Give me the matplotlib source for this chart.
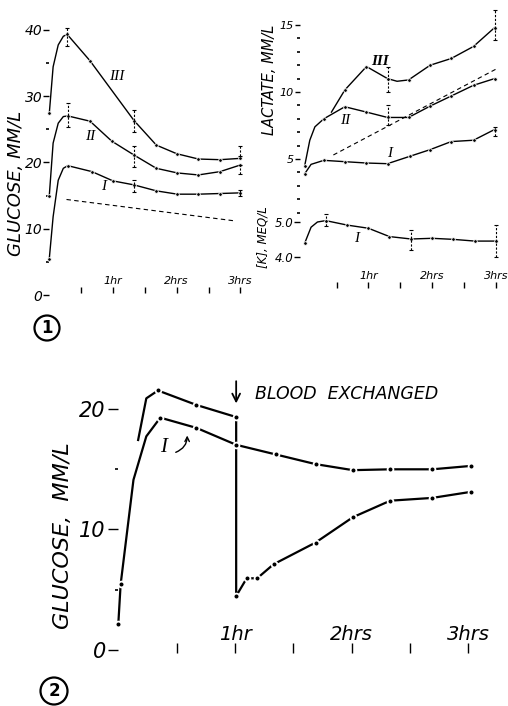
import matplotlib
matplotlib.use("Agg")
import matplotlib.pyplot as plt
from matplotlib.patches import Circle

W, H = 508, 706

# ---------------- figure 1, glucose (left panel) ----------------
# the extra values right after t=0 are bends of the hand-drawn curve, no dot there
glu3_t = [0, 0.06, 0.14, 0.22, 0.28, 0.64, 1.33, 1.68, 2.0, 2.34, 2.68, 3.0]
glu3 = [27.4, 34.4, 37.7, 39.0, 39.3, 35.3, 26.3, 22.6, 21.3, 20.5, 20.4, 20.6]
glu2_t = [0, 0.06, 0.14, 0.22, 0.29, 0.64, 0.98, 1.33, 1.68, 2.01, 2.34, 2.68, 3.0]
glu2 = [15.0, 22.9, 25.9, 26.9, 27.0, 26.2, 23.2, 21.1, 19.1, 18.4, 18.1, 18.6, 19.6]
glu1_t = [0, 0.06, 0.14, 0.22, 0.29, 0.67, 1.0, 1.33, 1.68, 2.01, 2.34, 2.68, 3.0]
glu1 = [5.5, 11.8, 17.3, 19.1, 19.5, 18.6, 17.2, 16.6, 15.7, 15.2, 15.2, 15.3, 15.4]
glu_dots = [0, 4, 5, 6, 7, 8, 9, 10, 11, 12]
glu_dash_t = [0.27, 2.89]
glu_dash = [14.4, 11.2]
glu_err_t = [0.28, 0.29, 1.33, 1.33, 1.33, 3.0, 3.0, 3.0]
glu_err_lo = [37.5, 25.4, 24.6, 19.3, 15.6, 20.9, 18.3, 14.9]
glu_err_hi = [40.2, 28.9, 27.9, 22.4, 17.3, 22.5, 19.6, 15.9]

# ---------------- figure 1, lactate and potassium (right panel) ----------------
lac3_t = [0.42, 0.63, 0.97, 1.3, 1.45, 1.63, 1.97, 2.3, 2.65, 2.98]
lac3 = [8.5, 10.15, 11.9, 11.0, 10.8, 10.9, 12.0, 12.5, 13.4, 14.8]
lac3_dots = [1, 2, 3, 5, 6, 7, 8, 9]
lac2_t = [0, 0.08, 0.16, 0.3, 0.63, 0.97, 1.3, 1.63, 1.97, 2.3, 2.65, 2.98]
lac2 = [4.5, 6.4, 7.4, 8.0, 8.9, 8.5, 8.1, 8.1, 8.95, 9.7, 10.5, 11.0]
lac2_dots = [0, 3, 4, 5, 6, 7, 8, 9, 10, 11]
lac1_t = [0, 0.1, 0.3, 0.63, 0.97, 1.3, 1.65, 1.97, 2.3, 2.65, 2.98]
lac1 = [3.9, 4.6, 4.9, 4.8, 4.7, 4.65, 5.2, 5.7, 6.3, 6.4, 7.2]
lac1_dots = [0, 2, 3, 4, 5, 6, 7, 8, 9, 10]
lac_dash_t = [0.45, 3.04]
lac_dash = [5.3, 11.8]
lac_err_t = [1.3, 1.3, 2.98, 2.98]
lac_err_lo = [10.0, 7.5, 13.9, 6.7]
lac_err_hi = [11.9, 9.0, 16.1, 7.4]

k_t = [0, 0.1, 0.2, 0.33, 0.67, 1.0, 1.33, 1.67, 2.0, 2.33, 2.67, 3.0]
k_meq = [4.39, 4.85, 5.0, 5.04, 4.91, 4.82, 4.58, 4.51, 4.53, 4.50, 4.45, 4.45]
k_dots = [0, 3, 4, 5, 6, 7, 8, 9, 10, 11]
k_err_t = [0.33, 1.67, 3.0]
k_err_lo = [4.88, 4.19, 4.0]
k_err_hi = [5.23, 4.77, 4.91]

# ---------------- figure 2, glucose with blood exchange ----------------
ex_t = [0.17, 0.24, 0.34, 0.67, 1.01, 1.01, 1.10, 1.19, 1.33, 1.69, 2.01, 2.33, 2.69, 3.02]
ex_glu = [17.4, 20.85, 21.5, 20.3, 19.3, 4.47, 5.94, 5.94, 7.1, 8.9, 11.0, 12.37, 12.6, 13.1]
ex_dots = [2, 3, 4, 5, 6, 7, 8, 9, 10, 11, 12, 13]
c1_t = [0.0, 0.02, 0.13, 0.24, 0.36, 0.67, 1.01, 1.35, 1.69, 2.01, 2.33, 2.69, 3.02]
c1_glu = [2.15, 5.44, 14.1, 17.7, 19.25, 18.4, 17.0, 16.2, 15.4, 14.9, 14.97, 14.97, 15.25]
c1_dots = [0, 1, 4, 5, 6, 7, 8, 9, 10, 11, 12]

hour_ticks = [0.5, 1, 1.5, 2, 2.5, 3]
hour_labels = ["", "1hr", "", "2hrs", "", "3hrs"]


def place_axes(fig, x0, px_hr, y_ref, px_unit, v_ref, xlim, ylim):
    # x0: pixel of t=0, y_ref: pixel row of value v_ref
    left = x0 + xlim[0] * px_hr
    width = (xlim[1] - xlim[0]) * px_hr
    top = y_ref - (ylim[1] - v_ref) * px_unit
    height = (ylim[1] - ylim[0]) * px_unit
    ax = fig.add_axes([left / W, 1 - (top + height) / H, width / W, height / H])
    ax.set_xlim(xlim)
    ax.set_ylim(ylim)
    ax.patch.set_alpha(0)
    for s in ("top", "right"):
        ax.spines[s].set_visible(False)
    for s in ("left", "bottom"):
        ax.spines[s].set_color("none")
    return ax


def time_axis(ax, at, size, pad, length):
    ax.spines["bottom"].set_position(("data", at))
    ax.set_xticks(hour_ticks, hour_labels, fontsize=size, style="italic")
    ax.tick_params(axis="x", direction="inout", length=length, width=1, pad=pad)


def value_axis(ax, at, major, labels, minor, size, length, pad=1):
    ax.spines["left"].set_position(("data", at))
    ax.set_yticks(major, labels, fontsize=size, style="italic")
    ax.set_yticks(minor, minor=True)
    ax.tick_params(axis="y", which="major", direction="out", length=length, width=1, pad=pad)
    ax.tick_params(axis="y", which="minor", direction="out", length=2, width=1.2)


def curve(ax, t, v, dots, lw, ms, ring):
    ax.plot(t, v, color="k", lw=lw, marker="o", ms=ms, markevery=dots,
            mfc="k", mec="white", mew=ring)


def bars(ax, t, lo, hi, style):
    ax.vlines(t, lo, hi, colors="k", lw=0.8, linestyles=style)
    ax.plot(t, lo, "_", color="k", ms=3, mew=0.8)
    ax.plot(t, hi, "_", color="k", ms=3, mew=0.8)


def numeral(ax, t, v, s, size, weight="normal"):
    ax.text(t, v, s, family="Liberation Serif", style="italic", fontsize=size,
            weight=weight, ha="center", va="center")


plt.rcParams["font.family"] = "DejaVu Sans"
fig = plt.figure(figsize=(W / 100, H / 100), dpi=100)

# --- glucose, figure 1 ---
ax1 = place_axes(fig, 49.3, 63.7, 295, 6.633, 0, (-0.35, 3.2), (-1, 42))
value_axis(ax1, 0, [0, 10, 20, 30, 40], ["0", "10", "20", "30", "40"], [5, 15, 25, 35], 10, 4)
time_axis(ax1, 0.75, 8, -12.5, 5)
curve(ax1, glu3_t, glu3, [0] + list(range(4, 12)), 1.0, 2.6, 0.6)
curve(ax1, glu2_t, glu2, glu_dots, 1.0, 2.6, 0.6)
curve(ax1, glu1_t, glu1, glu_dots, 1.0, 2.6, 0.6)
ax1.plot(glu_dash_t, glu_dash, color="k", lw=0.8, ls=(0, (4, 3)))
bars(ax1, glu_err_t, glu_err_lo, glu_err_hi, (0, (2, 1.5)))
numeral(ax1, 1.06, 32.9, "III", 11)
numeral(ax1, 0.64, 23.9, "II", 11)
numeral(ax1, 0.85, 16.3, "I", 11)
ax1.text(-0.53, 16.8, "GLUCOSE, MM/L", rotation=90, style="italic", fontsize=13,
         ha="center", va="center")

# --- lactate, figure 1 ---
ax2 = place_axes(fig, 304.7, 63.7, 159, 13.4, 5, (-0.6, 3.2), (0.5, 16.5))
value_axis(ax2, -0.07, [5, 10, 15], ["5", "10", "15"],
           [1, 2, 3, 4, 6, 7, 8, 9, 11, 12, 13, 14], 8, 3.5)
ax2.tick_params(axis="x", bottom=False, labelbottom=False)
curve(ax2, lac3_t, lac3, lac3_dots, 1.0, 2.6, 0.6)
curve(ax2, lac2_t, lac2, lac2_dots, 1.0, 2.6, 0.6)
curve(ax2, lac1_t, lac1, lac1_dots, 1.0, 2.6, 0.6)
ax2.plot(lac_dash_t, lac_dash, color="k", lw=0.8, ls=(0, (4, 3)))
bars(ax2, lac_err_t, lac_err_lo, lac_err_hi, (0, (2, 1.5)))
numeral(ax2, 1.18, 12.3, "III", 11, "bold")
numeral(ax2, 0.63, 7.9, "II", 11)
numeral(ax2, 1.34, 5.4, "I", 11)
ax2.text(-0.55, 10.9, "LACTATE, MM/L", rotation=90, style="italic", fontsize=10.5,
         ha="center", va="center")

# --- potassium, figure 1 ---
ax3 = place_axes(fig, 304.7, 63.7, 222, 34.7, 5.0, (-0.3, 3.2), (3.0, 5.3))
value_axis(ax3, -0.07, [4.0, 5.0], ["4.0", "5.0"], [], 8.5, 4)
time_axis(ax3, 3.18, 8, -13, 5)
curve(ax3, k_t, k_meq, k_dots, 1.0, 2.6, 0.6)
bars(ax3, k_err_t, k_err_lo, k_err_hi, (0, (2, 1.5)))
numeral(ax3, 0.81, 4.53, "I", 11)
ax3.text(-0.65, 4.55, "[K], MEQ/L", rotation=90, style="italic", fontsize=8.5,
         ha="center", va="center")

# --- figure 2 ---
ax4 = place_axes(fig, 118.3, 116.7, 650, 12.07, 0, (-0.6, 3.25), (-1.5, 23.5))
value_axis(ax4, 0, [0, 10, 20], ["0", "10", "20"], [5, 15], 15, 7, 2)
time_axis(ax4, 0.2, 14, -20, 7)
curve(ax4, ex_t, ex_glu, ex_dots, 1.6, 4.2, 1.3)
curve(ax4, c1_t, c1_glu, c1_dots, 1.6, 4.2, 1.3)
ax4.annotate("", xy=(1.01, 20.2), xytext=(1.01, 22.5),
             arrowprops=dict(arrowstyle="->", color="k", lw=1.3, mutation_scale=14))
ax4.text(1.17, 21.2, "BLOOD  EXCHANGED", style="italic", fontsize=12.5, ha="left", va="center")
numeral(ax4, 0.39, 16.8, "I", 15)
ax4.annotate("", xy=(0.59, 18.0), xytext=(0.47, 16.3),
             arrowprops=dict(arrowstyle="->", color="k", lw=1.0,
                             connectionstyle="arc3,rad=0.4", mutation_scale=8))
ax4.text(-0.47, 9.5, "GLUCOSE,  MM/L", rotation=90, style="italic", fontsize=16,
         ha="center", va="center")

# circled figure numbers
for cx, cy, r, s in [(47, 328, 12.5, "1"), (54, 691, 13.5, "2")]:
    fig.add_artist(Circle((cx / 100, (H - cy) / 100), r / 100, transform=fig.dpi_scale_trans,
                          fill=False, ec="k", lw=1.6))
    fig.text(cx / W, 1 - cy / H, s, ha="center", va="center", fontsize=12, weight="bold")

fig.savefig("out.png", dpi=100)
